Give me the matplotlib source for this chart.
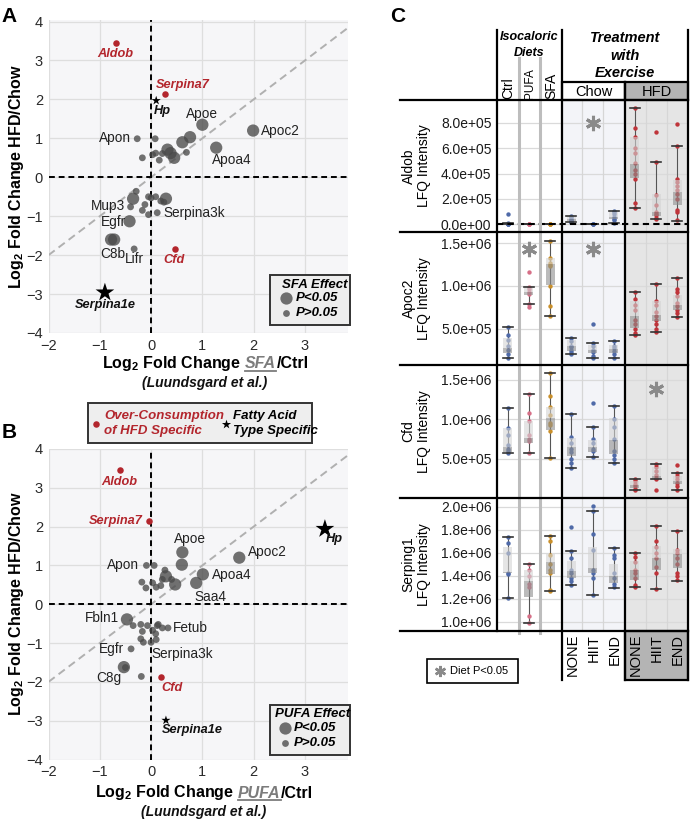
import numpy as np
import matplotlib
matplotlib.use("Agg")
import matplotlib.pyplot as plt
from matplotlib.patches import Rectangle

plt.rcParams["font.family"] = ["Liberation Sans", "DejaVu Sans"]
plt.rcParams["mathtext.fontset"] = "custom"
plt.rcParams["mathtext.rm"] = "Liberation Sans"
plt.rcParams["mathtext.bf"] = "Liberation Sans:bold"
plt.rcParams["mathtext.it"] = "Liberation Sans:italic"

# ------------------------------------------------------------------ data A (SFA)
sfa_x = [1.0, 1.99, -0.27, 1.27, 0.76, 0.61, 0.08, 0.32, 0.38, 0.45, 0.69, -0.17, 0.03, 0.09, 0.16, 0.22,
         -0.29, -0.35, -0.4, -0.17, -0.12, -0.05, 0.0, 0.09, 0.29, 0.19, 0.25, 0.12, -0.05, -0.42, -0.72, -0.78, -0.33]
sfa_y = [1.35, 1.2, 0.99, 0.76, 1.03, 0.9, 0.99, 0.71, 0.62, 0.5, 0.64, 0.5, 0.58, 0.62, 0.44, 0.61,
         -0.36, -0.55, -0.76, -0.85, -0.7, -0.5, -0.53, -0.5, -0.55, -0.61, -0.64, -0.91, -0.96, -1.13, -1.6, -1.6, -1.84]
sfa_big = [1, 1, 0, 1, 1, 1, 0, 1, 1, 1, 0, 0, 0, 0, 0, 0,
           0, 1, 0, 0, 0, 0, 0, 0, 1, 0, 0, 0, 0, 1, 1, 1, 0]
sfa_red_x = [-0.68, 0.27, 0.46]
sfa_red_y = [3.46, 2.15, -1.85]
sfa_star_x = [0.10, -0.9]
sfa_star_y = [1.97, -2.96]
sfa_star_big = [0, 1]
sfa_labels = [("Aldob", -0.69, 3.17, "center", "r"), ("Serpina7", 0.62, 2.38, "center", "r"),
              ("Hp", 0.22, 1.71, "center", "k"), ("Apoe", 1.0, 1.63, "center", "n"),
              ("Apoc2", 2.14, 1.2, "left", "n"), ("Apon", -0.4, 1.0, "right", "n"),
              ("Apoa4", 1.57, 0.45, "center", "n"), ("Mup3", -0.51, -0.74, "right", "n"),
              ("Serpina3k", 0.24, -0.93, "left", "n"), ("Egfr", -0.49, -1.14, "right", "n"),
              ("C8b", -0.75, -1.96, "center", "n"), ("Lifr", -0.33, -2.11, "center", "n"),
              ("Cfd", 0.45, -2.13, "center", "r"), ("Serpina1e", -0.9, -3.29, "center", "k")]

# ------------------------------------------------------------------ data B (PUFA)
pufa_x = [0.61, 0.6, 1.72, -0.09, 0.06, 1.01, 0.88, 0.47, 0.27, 0.29, 0.22, 0.4, -0.18, -0.1, 0.03, 0.1, 0.19,
          -0.47, -0.35, -0.2, -0.17, -0.07, 0.14, 0.12, 0.22, 0.33, -0.2, -0.15, 0.0, 0.1, 0.09, 0.03, -0.39, -0.53, -0.5, -0.19]
pufa_y = [1.34, 1.02, 1.2, 1.0, 1.0, 0.77, 0.55, 0.51, 0.88, 0.72, 0.64, 0.64, 0.57, 0.42, 0.55, 0.44, 0.48,
          -0.39, -0.55, -0.52, -0.7, -0.55, -0.52, -0.55, -0.61, -0.61, -0.89, -0.98, -0.98, -0.91, -0.76, -0.67, -1.15, -1.62, -1.63, -1.86]
pufa_big = [1, 1, 1, 0, 0, 1, 1, 1, 0, 1, 0, 0, 0, 0, 0, 0, 0,
            1, 0, 0, 0, 0, 0, 0, 0, 0, 0, 0, 0, 0, 0, 0, 0, 1, 0, 0]
pufa_red_x = [-0.6, -0.05, 0.19]
pufa_red_y = [3.45, 2.14, -1.87]
pufa_star_x = [3.39, 0.29]
pufa_star_y = [1.94, -2.99]
pufa_star_big = [1, 0]
pufa_labels = [("Aldob", -0.62, 3.14, "center", "r"), ("Serpina7", -0.16, 2.14, "right", "r"),
               ("Hp", 3.57, 1.67, "center", "k"), ("Apoe", 0.76, 1.67, "center", "n"),
               ("Apoc2", 1.88, 1.35, "left", "n"), ("Apon", -0.23, 1.0, "right", "n"),
               ("Apoa4", 1.19, 0.75, "left", "n"), ("Saa4", 1.15, 0.19, "center", "n"),
               ("Fbln1", -0.62, -0.35, "right", "n"), ("Fetub", 0.43, -0.61, "left", "n"),
               ("Egfr", -0.53, -1.15, "right", "n"), ("Serpina3k", 0.0, -1.27, "left", "n"),
               ("C8g", -0.58, -1.91, "right", "n"), ("Cfd", 0.4, -2.15, "center", "r"),
               ("Serpina1e", 0.8, -3.25, "center", "k")]

# ------------------------------------------------------------------ data C
groups = ["Ctrl", "PUFA", "SFA", "NONE", "HIIT", "END", "NONE", "HIIT", "END"]

aldob_pts = [[0.79, 0.08, 0.04, 0.02, 0.01, 0.0], [0.02, 0.01, 0.0, 0.0], [0.02, 0.01, 0.0, 0.0],
             [0.68, 0.6, 0.45, 0.35, 0.28, 0.2, 0.15], [0.01, 0.0, 0.0], [1.07, 0.97, 0.8, 0.6, 0.45, 0.35, 0.1],
             [9.18, 7.6, 6.9, 6.0, 5.6, 4.8, 4.3, 4.0, 3.6, 1.65, 1.26],
             [7.29, 4.88, 2.3, 1.5, 1.0, 0.8, 0.7, 0.5, 0.42],
             [7.87, 6.19, 3.6, 3.3, 3.0, 2.7, 2.4, 2.0, 1.1, 1.0, 0.3]]
aldob_lo = [0.0, 0.0, 0.0, 0.15, 0.0, 0.1, 1.26, 0.42, 0.26]
aldob_q1 = [0.0, 0.0, 0.0, 0.26, 0.0, 0.4, 3.62, 0.68, 1.52]
aldob_med = [0.02, 0.0, 0.0, 0.4, 0.0, 0.55, 4.72, 0.98, 2.55]
aldob_q3 = [0.05, 0.01, 0.01, 0.62, 0.01, 0.97, 6.9, 2.36, 3.49]
aldob_hi = [0.1, 0.02, 0.02, 0.68, 0.02, 1.07, 9.18, 4.88, 6.19]

apoc2_pts = [[0.514, 0.42, 0.36, 0.3, 0.25, 0.2, 0.156], [1.17, 0.985, 0.96, 0.93, 0.91, 0.79, 0.75],
             [1.533, 1.33, 1.27, 1.25, 1.23, 1.0, 0.765, 0.647], [0.385, 0.35, 0.3, 0.28, 0.25, 0.22, 0.196],
             [0.553, 0.326, 0.3, 0.25, 0.22, 0.18, 0.156], [0.357, 0.3, 0.27, 0.24, 0.2, 0.156],
             [0.933, 0.85, 0.78, 0.72, 0.6, 0.55, 0.5, 0.45, 0.424],
             [1.024, 0.82, 0.78, 0.7, 0.65, 0.6, 0.55, 0.5, 0.463],
             [1.09, 0.97, 0.93, 0.88, 0.8, 0.76, 0.72, 0.68, 0.632]]
apoc2_lo = [0.156, 0.79, 0.647, 0.196, 0.156, 0.156, 0.424, 0.463, 0.632]
apoc2_q1 = [0.215, 0.90, 1.012, 0.24, 0.21, 0.215, 0.502, 0.588, 0.718]
apoc2_med = [0.27, 0.93, 1.26, 0.29, 0.25, 0.26, 0.647, 0.659, 0.776]
apoc2_q3 = [0.385, 0.98, 1.326, 0.36, 0.31, 0.31, 0.824, 0.824, 0.894]
apoc2_hi = [0.514, 0.985, 1.533, 0.385, 0.326, 0.357, 0.933, 1.024, 1.09]

cfd_pts = [[1.139, 0.89, 0.8, 0.68, 0.62, 0.6, 0.57], [1.316, 1.076, 0.98, 0.8, 0.75, 0.72, 0.577],
           [1.59, 1.29, 1.15, 1.05, 0.95, 0.93, 0.85, 0.514], [1.063, 0.77, 0.7, 0.62, 0.58, 0.5, 0.45, 0.387],
           [1.21, 0.9, 0.75, 0.7, 0.62, 0.6, 0.52], [1.168, 1.0, 0.9, 0.75, 0.6, 0.55, 0.5, 0.451],
           [0.25, 0.22, 0.18, 0.15, 0.12, 0.105], [0.434, 0.4, 0.35, 0.3, 0.26, 0.24, 0.105],
           [0.422, 0.324, 0.28, 0.25, 0.2, 0.15, 0.11]]
cfd_lo = [0.57, 0.577, 0.514, 0.387, 0.519, 0.451, 0.105, 0.24, 0.11]
cfd_q1 = [0.59, 0.704, 0.865, 0.536, 0.59, 0.561, 0.13, 0.25, 0.18]
cfd_med = [0.65, 0.76, 1.02, 0.65, 0.65, 0.738, 0.17, 0.28, 0.22]
cfd_q3 = [0.886, 0.98, 1.16, 0.767, 0.74, 1.02, 0.22, 0.4, 0.28]
cfd_hi = [1.139, 1.316, 1.59, 1.063, 0.899, 1.168, 0.25, 0.434, 0.324]

serp_pts = [[1.734, 1.687, 1.6, 1.42, 1.413, 1.205], [1.503, 1.45, 1.4, 1.33, 1.3, 1.05, 0.988],
            [1.745, 1.7, 1.58, 1.5, 1.45, 1.42, 1.28, 1.268], [1.826, 1.615, 1.55, 1.45, 1.42, 1.38, 1.35, 1.32],
            [2.005, 1.965, 1.76, 1.62, 1.45, 1.42, 1.38, 1.234], [1.639, 1.58, 1.55, 1.42, 1.38, 1.33, 1.3],
            [1.595, 1.56, 1.52, 1.45, 1.42, 1.38, 1.32, 1.3], [1.835, 1.7, 1.65, 1.6, 1.55, 1.48, 1.42, 1.286],
            [1.79, 1.62, 1.6, 1.55, 1.5, 1.42, 1.4, 1.36]]
serp_lo = [1.205, 0.988, 1.268, 1.32, 1.234, 1.292, 1.3, 1.286, 1.355]
serp_q1 = [1.422, 1.219, 1.413, 1.38, 1.42, 1.338, 1.36, 1.45, 1.465]
serp_med = [1.43, 1.358, 1.52, 1.44, 1.47, 1.395, 1.45, 1.55, 1.59]
serp_q3 = [1.653, 1.45, 1.59, 1.525, 1.653, 1.5, 1.525, 1.66, 1.63]
serp_hi = [1.734, 1.503, 1.745, 1.615, 1.965, 1.639, 1.595, 1.835, 1.79]

# significance asterisks: (row, group index, value)
sig_marks = [(0, 4, 7.95), (1, 1, 1.44), (1, 4, 1.44), (2, 7, 1.38)]

# ------------------------------------------------------------------ figure
W, H = 690, 824
fig = plt.figure(figsize=(W / 100, H / 100), dpi=100)


def rect_px(l, t, r, b):
    return [l / W, 1 - b / H, (r - l) / W, (b - t) / H]


GRAY = "#4a4a4a"
RED = "#b3262d"
BIG_S, SMALL_S = 78, 24


def scatter_panel(ax, gx, gy, gbig, rx, ry, stx, sty, stbig, labels):
    ax.set_facecolor("#f6f6f8")
    ax.set_xlim(-2, 3.84)
    ax.set_xticks(range(-2, 4))
    ax.set_yticks(range(-4, 5))
    ax.grid(True, color="#dedede", lw=0.9)
    ax.set_axisbelow(True)
    for s in ax.spines.values():
        s.set_visible(False)
    ax.tick_params(length=0, labelsize=10.5, labelcolor="#2a2a2a", pad=4)
    ax.plot([-2, 4], [-2, 4], color="#b0b0b0", lw=1.4, ls=(0, (4, 2.5)), zorder=1)
    ax.axvline(0, color="black", lw=1.4, ls=(0, (3, 2)), zorder=1.5)
    ax.axhline(0, color="black", lw=1.4, ls=(0, (3, 2)), zorder=1.5)
    sizes = np.where(np.array(gbig) == 1, BIG_S, SMALL_S)
    ax.scatter(gx, gy, s=sizes, color=GRAY, alpha=0.78, lw=0, zorder=3)
    ax.scatter(rx, ry, s=22, color=RED, lw=0, zorder=4)
    ax.scatter(stx, sty, s=np.where(np.array(stbig) == 1, 200, 48), marker="*",
               color="black", lw=0, zorder=4)
    for name, x, y, ha, st in labels:
        if st == "n":
            ax.text(x, y, name, ha=ha, va="center", fontsize=9.8, color="#222", zorder=5)
        else:
            ax.text(x, y, name, ha=ha, va="center", fontsize=9.2, fontweight="bold",
                    style="italic", color=RED if st == "r" else "#111", zorder=5)


axA = fig.add_axes(rect_px(48.5, 20, 348, 333))
scatter_panel(axA, sfa_x, sfa_y, sfa_big, sfa_red_x, sfa_red_y, sfa_star_x, sfa_star_y,
              sfa_star_big, sfa_labels)
axA.set_ylim(-4, 4.04)
axB = fig.add_axes(rect_px(48.5, 449, 348, 759.5))
scatter_panel(axB, pufa_x, pufa_y, pufa_big, pufa_red_x, pufa_red_y, pufa_star_x, pufa_star_y,
              pufa_star_big, pufa_labels)
axB.set_ylim(-4, 4)

# ------------------------------------------------------------------ panel C rows
col_colors = ["#4f6aa8", "#d66f87", "#c98f2a", "#4f6aa8", "#4f6aa8", "#4f6aa8",
              "#bf343a", "#bf343a", "#bf343a"]
rows = [
    ("Aldob", aldob_pts, aldob_lo, aldob_q1, aldob_med, aldob_q3, aldob_hi, 1e5,
     (-0.606, 9.79), [0, 2, 4, 6, 8], 100, 232),
    ("Apoc2", apoc2_pts, apoc2_lo, apoc2_q1, apoc2_med, apoc2_q3, apoc2_hi, 1e6,
     (0.071, 1.635), [0.5, 1.0, 1.5], 232, 365),
    ("Cfd", cfd_pts, cfd_lo, cfd_q1, cfd_med, cfd_q3, cfd_hi, 1e6,
     (0.004, 1.687), [0.5, 1.0, 1.5], 365, 498),
    ("Serping1", serp_pts, serp_lo, serp_q1, serp_med, serp_q3, serp_hi, 1e6,
     (0.92, 2.075), [1.0, 1.2, 1.4, 1.6, 1.8, 2.0], 498, 631),
]
row_axes = []
for ri, (name, pts, lo, q1, med, q3, hi, sc, ylim, ticks, top, bot) in enumerate(rows):
    ax = fig.add_axes(rect_px(497, top, 688, bot))
    row_axes.append(ax)
    ax.set_xlim(0, 9)
    ax.set_ylim(ylim[0] * sc, ylim[1] * sc)
    ax.set_yticks([t * sc for t in ticks])
    ax.yaxis.set_major_formatter(matplotlib.ticker.FuncFormatter(lambda v, p: f"{v:.1e}"))
    ax.set_xticks([])
    ax.tick_params(length=0, labelsize=10, labelcolor="#1a1a1a", pad=4)
    for s in ax.spines.values():
        s.set_visible(False)
    ax.axvspan(0, 3, color="white", zorder=0)
    ax.axvspan(3, 6, color="#f3f4f8", zorder=0)
    ax.axvspan(6, 9, color="#e5e5e5", zorder=0)
    for t in ticks:
        ax.axhline(t * sc, color="#dadada", lw=0.9, zorder=0.5)
    for xv in (4, 5, 7, 8):
        ax.axvline(xv, color="#d6d6d6", lw=0.9, zorder=0.5)
    if name == "Aldob":
        ax.axhline(0, color="black", lw=1.5, ls=(0, (3, 2)), zorder=6)
    for i in range(9):
        xc = i + 0.5
        p = np.array(pts[i]) * sc
        ax.scatter(np.full(len(p), xc), p, s=10, color=col_colors[i], lw=0, zorder=3)
        ax.plot([xc, xc], [lo[i] * sc, hi[i] * sc], color="#555", lw=0.8, zorder=2)
        for v in (lo[i], hi[i]):
            ax.plot([xc - 0.24, xc + 0.24], [v * sc, v * sc], color="#333", lw=1.2, zorder=5)
        ax.add_patch(Rectangle((xc - 0.21, q1[i] * sc), 0.42, (med[i] - q1[i]) * sc,
                               facecolor="#8f8f8f", alpha=0.6, lw=0, zorder=4))
        ax.add_patch(Rectangle((xc - 0.21, med[i] * sc), 0.42, (q3[i] - med[i]) * sc,
                               facecolor="#d4d4d4", alpha=0.6, lw=0, zorder=4))
for (ri, gi, v) in sig_marks:
    sc = rows[ri][7]
    row_axes[ri].plot([gi + 0.5], [v * sc], marker=(6, 2, 0), ms=11, mew=2.2,
                      color="#8a8a8a", ls="none", zorder=7)

# ------------------------------------------------------------------ overlay
ov = fig.add_axes([0, 0, 1, 1])
ov.set_xlim(0, W)
ov.set_ylim(H, 0)
ov.axis("off")
ov.set_zorder(10)
ov.patch.set_alpha(0)

# panel letters
ov.text(9.5, 16, "A", fontsize=15, fontweight="bold", ha="center", va="center")
ov.text(9, 432.5, "B", fontsize=15, fontweight="bold", ha="center", va="center")
ov.text(398, 16, "C", fontsize=15, fontweight="bold", ha="center", va="center")

# y labels
for cy in (176.5, 604):
    ov.text(17, cy, r"Log$_\mathbf{2}$ Fold Change HFD/Chow", rotation=90, ha="center",
            va="center", fontsize=11.5, fontweight="bold")

renderer = fig.canvas.get_renderer()


def composite_xlabel(cx, base_y, word, sub_y):
    kw = dict(fontsize=11.5, fontweight="bold", va="baseline", ha="left")
    t1 = ov.text(0, base_y, r"Log$_\mathbf{2}$ Fold Change", **kw)
    t2 = ov.text(0, base_y, word, color="#7c7c7c", style="italic", **kw)
    t3 = ov.text(0, base_y, "/Ctrl", **kw)
    w1 = t1.get_window_extent(renderer).width
    w2 = t2.get_window_extent(renderer).width
    w3 = t3.get_window_extent(renderer).width
    gap = 4
    x0 = cx - (w1 + gap + w2 + w3) / 2
    t1.set_x(x0)
    t2.set_x(x0 + w1 + gap)
    t3.set_x(x0 + w1 + gap + w2 + 0.5)
    ov.plot([x0 + w1 + gap, x0 + w1 + gap + w2], [base_y + 2.5, base_y + 2.5],
            color="#7c7c7c", lw=1.3)
    ov.text(cx, sub_y, "(Luundsgard et al.)", fontsize=10, fontweight="bold", style="italic",
            ha="center", va="center", color="#111")


composite_xlabel(205, 368, "SFA", 382.7)
composite_xlabel(204, 797.5, "PUFA", 812)


# effect legends
def effect_legend(top, bottom, title, tcx, dx, txt_x, y0, y1, y2):
    ov.add_patch(Rectangle((269.5, top), 80.5, bottom - top, facecolor="#eeeeee",
                           edgecolor="#333", lw=1.4, zorder=1))
    ov.text(tcx, y0, title, fontsize=9.5, fontweight="bold", style="italic", ha="center", va="center")
    ov.scatter([dx], [y1], s=BIG_S, color=GRAY, alpha=0.78, lw=0, zorder=2)
    ov.scatter([dx], [y2], s=SMALL_S, color=GRAY, alpha=0.78, lw=0, zorder=2)
    ov.text(txt_x, y1, "P<0.05", fontsize=9.5, fontweight="bold", style="italic", va="center")
    ov.text(txt_x, y2, "P>0.05", fontsize=9.5, fontweight="bold", style="italic", va="center")


effect_legend(274.5, 324.5, "SFA Effect", 315, 286, 296, 284.7, 298.3, 313.3)
effect_legend(704.5, 755, "PUFA Effect", 313, 285, 293.5, 714.3, 728.3, 743.3)

# B top legend
ov.add_patch(Rectangle((88.3, 403.3), 224, 39.4, facecolor="#eeeeee", edgecolor="#333", lw=1.4))
ov.scatter([95.7], [424], s=22, color=RED, lw=0)
ov.text(104.3, 416, "Over-Consumption", fontsize=9.5, fontweight="bold", style="italic",
        color=RED, va="center")
ov.text(104.3, 430.5, "of HFD Specific", fontsize=9.5, fontweight="bold", style="italic",
        color=RED, va="center")
ov.scatter([226], [424], s=48, marker="*", color="black", lw=0)
ov.text(233.3, 416, "Fatty Acid", fontsize=9.5, fontweight="bold", style="italic", va="center")
ov.text(233.3, 430.5, "Type Specific", fontsize=9.5, fontweight="bold", style="italic", va="center")

# ---- panel C table structure
LW = 1.6
ov.add_patch(Rectangle((562, 82), 63, 18, facecolor="white", edgecolor="black", lw=LW))
ov.add_patch(Rectangle((625, 82), 63, 18, facecolor="#b4b4b4", edgecolor="black", lw=LW))
ov.add_patch(Rectangle((625, 631), 63, 49, facecolor="#b4b4b4", edgecolor="black", lw=LW))
for gx in (519, 540):
    ov.plot([gx, gx], [58, 633], color="#bdbdbd", lw=2.2, zorder=1)
ov.plot([497, 497], [30, 631], color="black", lw=LW)
ov.plot([562, 562], [30, 680], color="black", lw=LW)
ov.plot([625, 625], [82, 680], color="black", lw=LW)
ov.plot([688, 688], [30, 680], color="black", lw=LW)
for yy in (100, 232, 365, 498, 631):
    ov.plot([400, 688], [yy, yy], color="black", lw=LW)

# header texts
ov.text(529.5, 37, "Isocaloric", fontsize=9, fontweight="bold", style="italic", ha="center", va="center")
ov.text(529.5, 52.5, "Diets", fontsize=9, fontweight="bold", style="italic", ha="center", va="center")
for gx, lab, fs in ((508, "Ctrl", 10), (529.5, "PUFA", 8.5), (551, "SFA", 10)):
    ov.text(gx, 98.5, lab, fontsize=fs, rotation=90, ha="center", va="bottom")
for yy, lab in ((38.3, "Treatment"), (56, "with"), (73.3, "Exercise")):
    ov.text(625, yy, lab, fontsize=10.5, fontweight="bold", style="italic", ha="center", va="center")
ov.text(593.5, 91.5, "Chow", fontsize=10.5, ha="center", va="center")
ov.text(656.5, 91.5, "HFD", fontsize=10.5, ha="center", va="center")

# row labels
for (name, *_rest) in rows:
    top, bot = _rest[-2], _rest[-1]
    ov.text(416.5, (top + bot) / 2, f"{name}\nLFQ Intensity", rotation=90, fontsize=10,
            ha="center", va="center", multialignment="center", linespacing=1.15)

# bottom tick labels
for i, xc in enumerate([572.5, 593.5, 614.5, 635.5, 656.5, 677.5]):
    ov.text(xc, 634, groups[3 + i], rotation=90, fontsize=10.5, ha="center", va="top")

# Diet legend
ov.add_patch(Rectangle((427, 659), 91, 24, facecolor="white", edgecolor="black", lw=1.2))
ov.plot([439.5], [671], marker=(6, 2, 0), ms=8, mew=1.8, color="#8a8a8a", ls="none")
ov.text(450.5, 671, "Diet P<0.05", fontsize=8, va="center", ha="left")

fig.savefig("out.png", dpi=100)
